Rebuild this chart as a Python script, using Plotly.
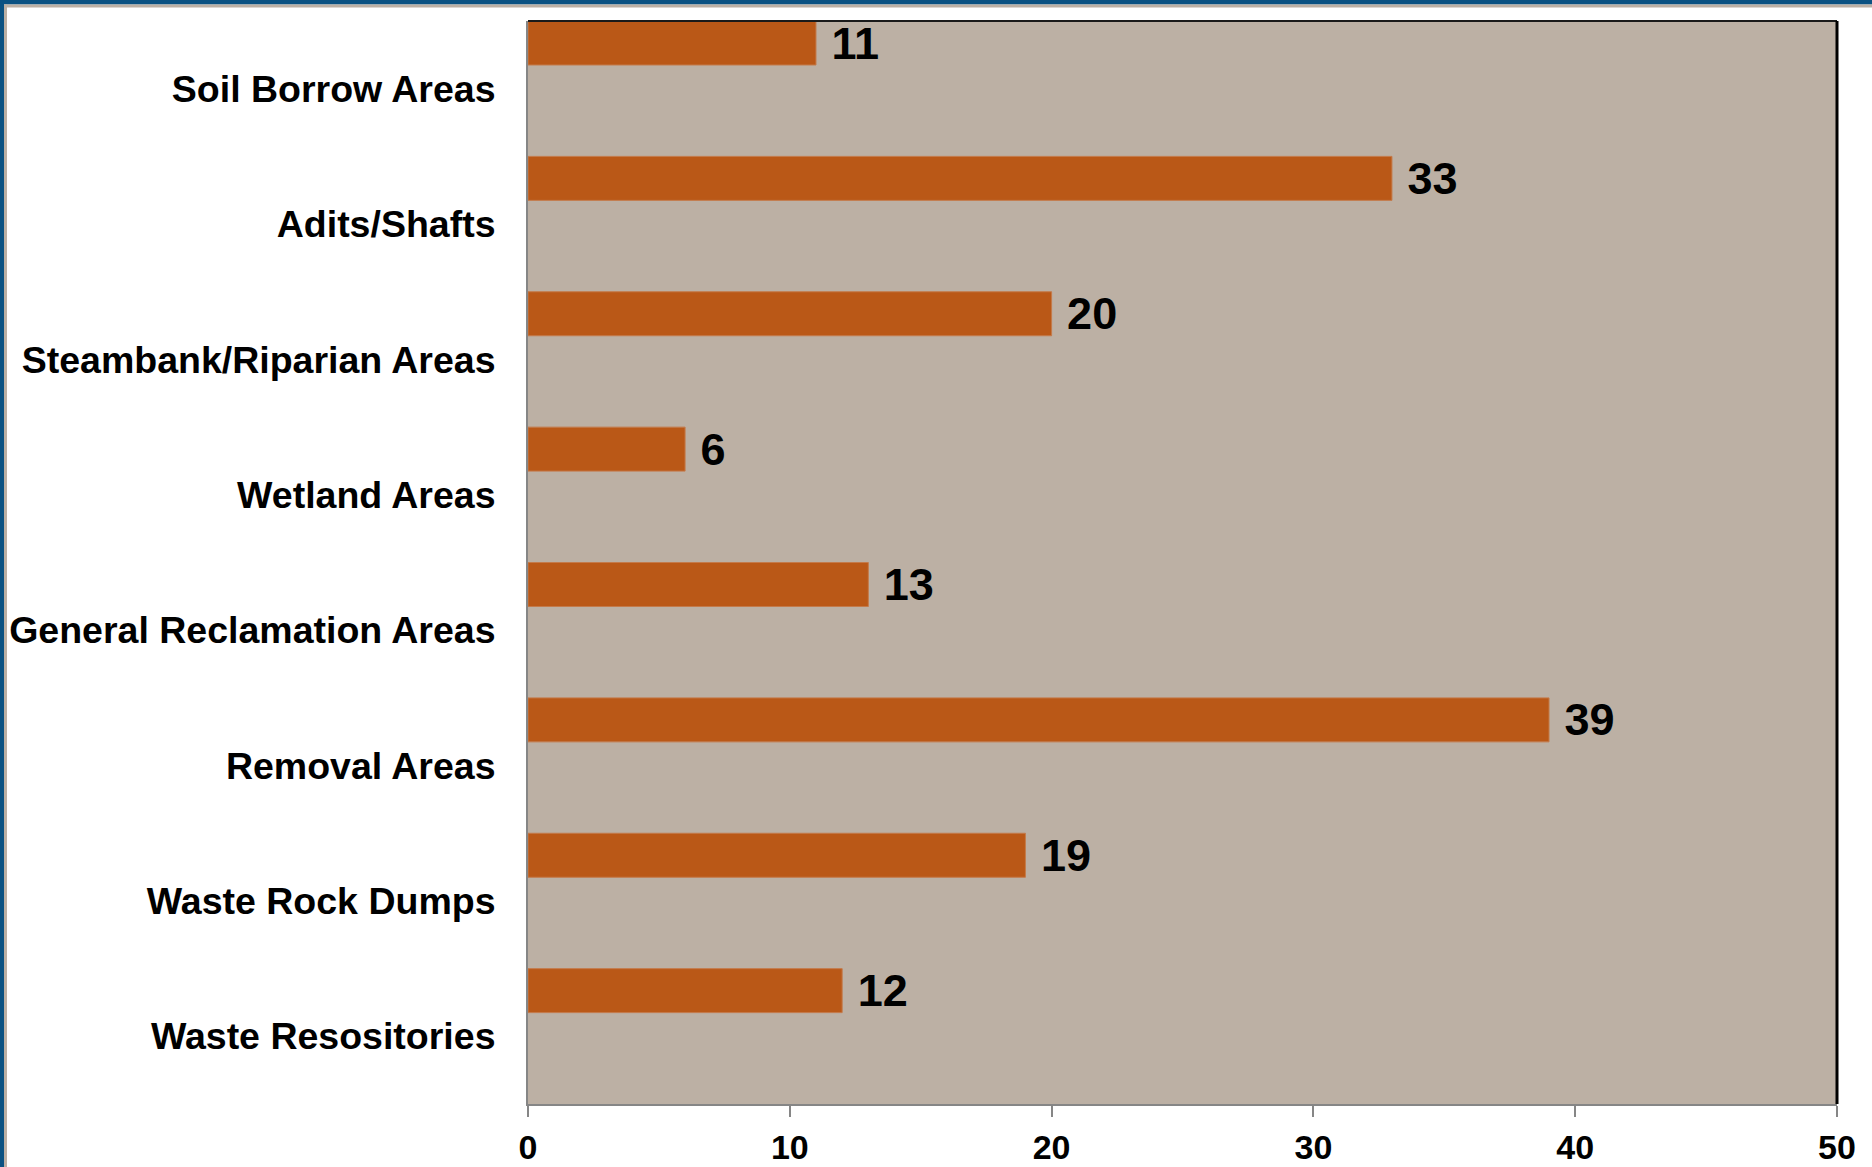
import plotly.graph_objects as go

# Reclamation feature categories and counts
categories = [
    "Soil Borrow Areas",
    "Adits/Shafts",
    "Steambank/Riparian Areas",
    "Wetland Areas",
    "General Reclamation Areas",
    "Removal Areas",
    "Waste Rock Dumps",
    "Waste Resositories",
]
counts = [11, 33, 20, 6, 13, 39, 19, 12]
x_ticks = [0, 10, 20, 30, 40, 50]

W, H = 1872, 1167
ML, MR, MT, MB = 528, 35, 21, 63
PW = W - ML - MR
PH = H - MT - MB

FONT = "Liberation Sans, Arial, Helvetica, sans-serif"
BAR = "#BA5817"
PLOT_BG = "#BCB0A4"
FRAME_BLUE = "#0B5282"
FRAME_TAN = "#BCB0A4"


def px_x(p):
    return (p - ML) / PW


def px_y(p):
    return 1 - (p - MT) / PH


fig = go.Figure(
    go.Bar(
        y=categories,
        x=counts,
        orientation="h",
        marker=dict(color=BAR, line=dict(color="#C47A4A", width=1)),
        width=0.325,
        offset=-0.5,
        text=counts,
        texttemplate="\u00a0%{x}",
        textposition="outside",
        constraintext="none",
        cliponaxis=False,
        textfont=dict(family=FONT, size=45, color="#000000", weight="bold"),
        hoverinfo="skip",
    )
)

shapes = [
    # outer frame: blue band with a thin tan inner rule along top and left
    dict(type="rect", xref="paper", yref="paper",
         x0=px_x(0), x1=px_x(W), y0=px_y(0), y1=px_y(4.6),
         line=dict(width=0), fillcolor=FRAME_BLUE, layer="above"),
    dict(type="rect", xref="paper", yref="paper",
         x0=px_x(4), x1=px_x(W), y0=px_y(4.6), y1=px_y(7.5),
         line=dict(width=0), fillcolor=FRAME_TAN, layer="above"),
    dict(type="rect", xref="paper", yref="paper",
         x0=px_x(0), x1=px_x(4), y0=px_y(0), y1=px_y(H),
         line=dict(width=0), fillcolor=FRAME_BLUE, layer="above"),
    dict(type="rect", xref="paper", yref="paper",
         x0=px_x(4), x1=px_x(7), y0=px_y(4.6), y1=px_y(H),
         line=dict(width=0), fillcolor=FRAME_TAN, layer="above"),
    # plot area border on top and right
    dict(type="line", xref="paper", yref="paper", x0=0, x1=1, y0=1, y1=1,
         line=dict(color="#1A1A1A", width=2), layer="above"),
    dict(type="line", xref="paper", yref="paper", x0=1, x1=1, y0=0, y1=1,
         line=dict(color="#000000", width=3), layer="above"),
]

fig.update_layout(
    width=W,
    height=H,
    margin=dict(l=ML, r=MR, t=MT, b=MB, pad=0, autoexpand=False),
    paper_bgcolor="#FFFFFF",
    plot_bgcolor=PLOT_BG,
    showlegend=False,
    shapes=shapes,
    xaxis=dict(
        range=[0, 50],
        tickvals=x_ticks,
        ticktext=[str(v) for v in x_ticks],
        showgrid=False,
        zeroline=False,
        showline=True,
        linecolor="#868686",
        linewidth=2,
        ticks="outside",
        ticklen=11,
        tickwidth=2,
        tickcolor="#868686",
        ticklabelstandoff=1,
        automargin=False,
        tickfont=dict(family=FONT, size=34, color="#000000", weight="bold"),
        fixedrange=True,
    ),
    yaxis=dict(
        type="category",
        categoryorder="array",
        categoryarray=categories,
        autorange="reversed",
        showgrid=False,
        zeroline=False,
        showline=True,
        linecolor="#868686",
        linewidth=2,
        ticks="",
        ticklabelstandoff=23,
        automargin=False,
        tickfont=dict(family=FONT, size=37.5, color="#000000", weight="bold"),
        fixedrange=True,
    ),
)

fig.write_html("out.html")
